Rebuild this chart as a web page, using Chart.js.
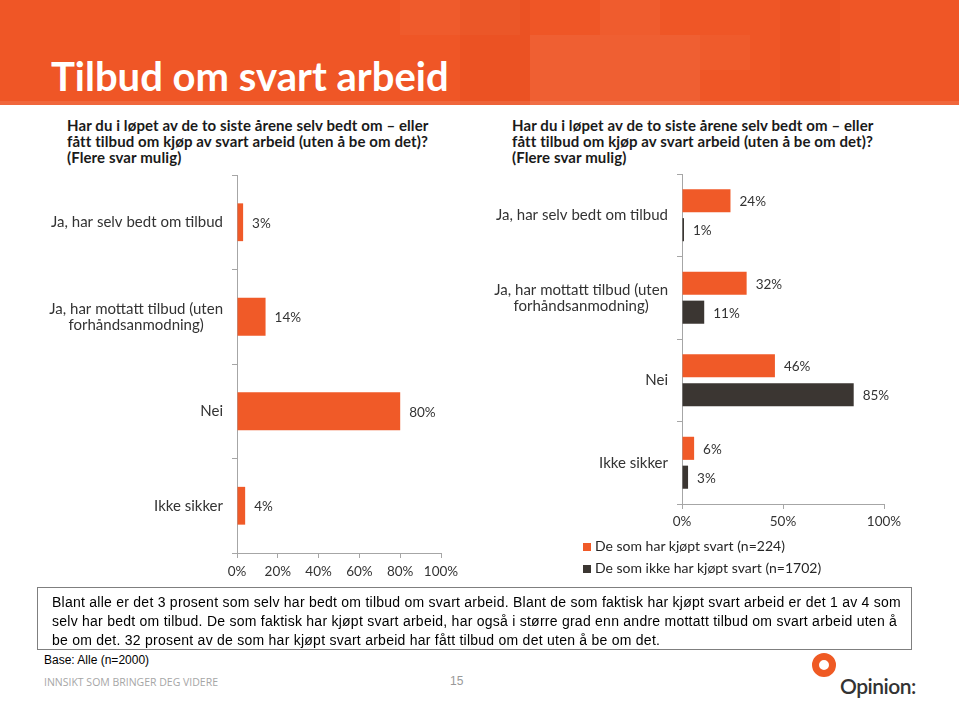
<!DOCTYPE html>
<html>
<head>
<meta charset="utf-8">
<script src="https://cdn.jsdelivr.net/npm/chart.js@4.4.1/dist/chart.umd.min.js"></script>
<style>
  body { margin: 0; background: #fff; }
  #slide { position: relative; width: 959px; height: 701px; overflow: hidden; font-family: "Liberation Sans", Arial, sans-serif; }
  #header { position: absolute; left: 0; top: 0; width: 959px; height: 105px; background: #ef5626; overflow: hidden; }
  .sq { position: absolute; }
  #title { position: absolute; left: 51px; top: 52px; color: #fff; font: bold 40px Lato, sans-serif; letter-spacing: 0px; }
  .qtitle { position: absolute; top: 117px; font: bold 15px Lato, sans-serif; letter-spacing: 0.1px; line-height: 16px; color: #1a1a1a; }
  canvas { position: absolute; }
  #legend { position: absolute; left: 583px; top: 535px; font: 14px Lato, sans-serif; color: #262626; }
  #legend div { height: 22px; line-height: 22px; }
  #legend span { display: inline-block; width: 8px; height: 8px; margin-right: 4px; vertical-align: 0px; }
  #note { position: absolute; left: 37px; top: 587px; width: 875px; height: 63px; border: 1px solid #7f7f7f; box-sizing: border-box; padding: 5px 0 0 14px; font-size: 14px; letter-spacing: 0.25px; line-height: 19px; color: #000; white-space: nowrap; }
  #base { position: absolute; left: 44px; top: 653px; font-size: 12px; color: #000; }
  #tag { position: absolute; left: 44px; top: 675px; font: 10.5px "Open Sans", sans-serif; color: #a6a6a6; letter-spacing: 0px; }
  #page { position: absolute; left: 450px; top: 674px; font-size: 12px; color: #999; }
  #ring { position: absolute; left: 812px; top: 653px; width: 10px; height: 10px; border: 7px solid #ef5a24; border-radius: 50%; }
  #logo { position: absolute; left: 840px; top: 673px; font: 600 21px Lato, sans-serif; color: #333; letter-spacing: -0.5px; }
</style>
</head>
<body>
<div id="slide">
  <div id="header">
    <div class="sq" style="left:400px;top:0;width:120px;height:35px;background:rgba(255,255,255,0.03)"></div>
    <div class="sq" style="left:460px;top:0;width:70px;height:105px;background:rgba(190,40,0,0.07)"></div>
    <div class="sq" style="left:530px;top:35px;width:170px;height:70px;background:rgba(255,255,255,0.06)"></div>
    <div class="sq" style="left:600px;top:0;width:60px;height:35px;background:rgba(255,255,255,0.04)"></div>
    <div class="sq" style="left:700px;top:35px;width:50px;height:35px;background:rgba(255,255,255,0.03)"></div>
    <div class="sq" style="left:780px;top:0;width:60px;height:105px;background:rgba(190,40,0,0.05)"></div>
    <div class="sq" style="left:0;top:101px;width:959px;height:4px;background:rgba(255,255,255,0.10)"></div>
  </div>
  <div id="title">Tilbud om svart arbeid</div>

  <div class="qtitle" style="left:67px">Har du i løpet av de to siste årene selv bedt om – eller<br>fått tilbud om kjøp av svart arbeid (uten å be om det)?<br>(Flere svar mulig)</div>
  <div class="qtitle" style="left:512px">Har du i løpet av de to siste årene selv bedt om – eller<br>fått tilbud om kjøp av svart arbeid (uten å be om det)?<br>(Flere svar mulig)</div>

  <canvas id="left" width="480" height="420" style="left:0;top:170px"></canvas>
  <canvas id="right" width="450" height="370" style="left:480px;top:170px"></canvas>
  <div id="legend"></div>

  <div id="note">Blant alle er det 3 prosent som selv har bedt om tilbud om svart arbeid. Blant de som faktisk har kjøpt svart arbeid er det 1 av 4 som<br>selv har bedt om tilbud. De som faktisk har kjøpt svart arbeid, har også i større grad enn andre mottatt tilbud om svart arbeid uten å<br>be om det. 32 prosent av de som har kjøpt svart arbeid har fått tilbud om det uten å be om det.</div>
  <div id="base">Base: Alle (n=2000)</div>
  <div id="tag">INNSIKT SOM BRINGER DEG VIDERE</div>
  <div id="page">15</div>
  <div id="ring"></div>
  <div id="logo">Opinion:</div>
</div>

<script>
const categories = [
  'Ja, har selv bedt om tilbud',
  ['Ja, har mottatt tilbud (uten', 'forhåndsanmodning)'],
  'Nei',
  'Ikke sikker'
];
const allValues = [3, 14, 80, 4];
const boughtValues = [24, 32, 46, 6];
const notBoughtValues = [1, 11, 85, 3];
const seriesNames = ['De som har kjøpt svart (n=224)', 'De som ikke har kjøpt svart (n=1702)'];
const leftTicks = [0, 20, 40, 60, 80, 100];
const rightTicks = [0, 50, 100];

const ORANGE = '#f05a28';
const DARK = '#3b3632';
const AXIS = '#a6a6a6';
const FONT = '"Century Gothic", Lato, sans-serif';

// category labels (centred lines, right-aligned block) and value labels
const labelPlugin = {
  id: 'labelPlugin',
  afterDraw(chart) {
    const ctx = chart.ctx;
    const ys = chart.scales.y;
    ctx.save();
    ctx.fillStyle = '#333';
    ctx.textBaseline = 'middle';
    ctx.font = '15px ' + FONT;
    ctx.textAlign = 'center';
    chart.data.labels.forEach((lab, i) => {
      const lines = [].concat(lab);
      const w = Math.max(...lines.map(l => ctx.measureText(l).width));
      const cx = ys.right - 14 - w / 2;
      const cy = ys.getPixelForValue(i);
      lines.forEach((l, j) => ctx.fillText(l, cx, cy + (j - (lines.length - 1) / 2) * 16));
    });
    ctx.font = '13.5px ' + FONT;
    ctx.textAlign = 'left';
    chart.data.datasets.forEach((ds, di) => {
      chart.getDatasetMeta(di).data.forEach((bar, i) => {
        ctx.fillText(ds.data[i] + '%', bar.x + 9, bar.y + 1);
      });
    });
    ctx.restore();
  }
};

function makeOptions(ticks, yWidth, xHeight, padding, tickPad) {
  return {
    indexAxis: 'y',
    responsive: false,
    animation: false,
    devicePixelRatio: 1,
    layout: { padding: padding },
    plugins: { legend: { display: false }, tooltip: { enabled: false } },
    scales: {
      x: {
        min: 0, max: 100,
        afterBuildTicks: s => { s.ticks = ticks.map(v => ({ value: v })); },
        afterFit: s => { s.height = xHeight; },
        grid: { drawOnChartArea: false, drawTicks: true, tickLength: 5, color: AXIS },
        border: { color: AXIS, width: 1 },
        ticks: { callback: v => v + '%', color: '#333', font: { family: FONT, size: 13.5 }, padding: tickPad, maxRotation: 0 }
      },
      y: {
        afterFit: s => { s.width = yWidth; },
        grid: { drawOnChartArea: false, drawTicks: true, tickLength: 5, color: AXIS, offset: true },
        border: { color: AXIS, width: 1 },
        ticks: { display: false }
      }
    }
  };
}

new Chart(document.getElementById('left'), {
  type: 'bar',
  data: {
    labels: categories,
    datasets: [{ data: allValues, backgroundColor: ORANGE, barPercentage: 0.8, categoryPercentage: 0.5 }]
  },
  options: makeOptions(leftTicks, 237, 37, { top: 5, right: 39, left: 0, bottom: 0 }, 6),
  plugins: [labelPlugin]
});

new Chart(document.getElementById('right'), {
  type: 'bar',
  data: {
    labels: categories,
    datasets: [
      { label: seriesNames[0], data: boughtValues, backgroundColor: ORANGE, barPercentage: 0.8, categoryPercentage: 0.7 },
      { label: seriesNames[1], data: notBoughtValues, backgroundColor: DARK, barPercentage: 0.8, categoryPercentage: 0.7 }
    ]
  },
  options: makeOptions(rightTicks, 202, 36, { top: 4, right: 46, left: 0, bottom: 0 }, 5),
  plugins: [labelPlugin]
});

const legend = document.getElementById('legend');
[ORANGE, DARK].forEach((c, i) => {
  const row = document.createElement('div');
  row.innerHTML = '<span style="background:' + c + '"></span>' + seriesNames[i];
  legend.appendChild(row);
});
</script>
</body>
</html>
